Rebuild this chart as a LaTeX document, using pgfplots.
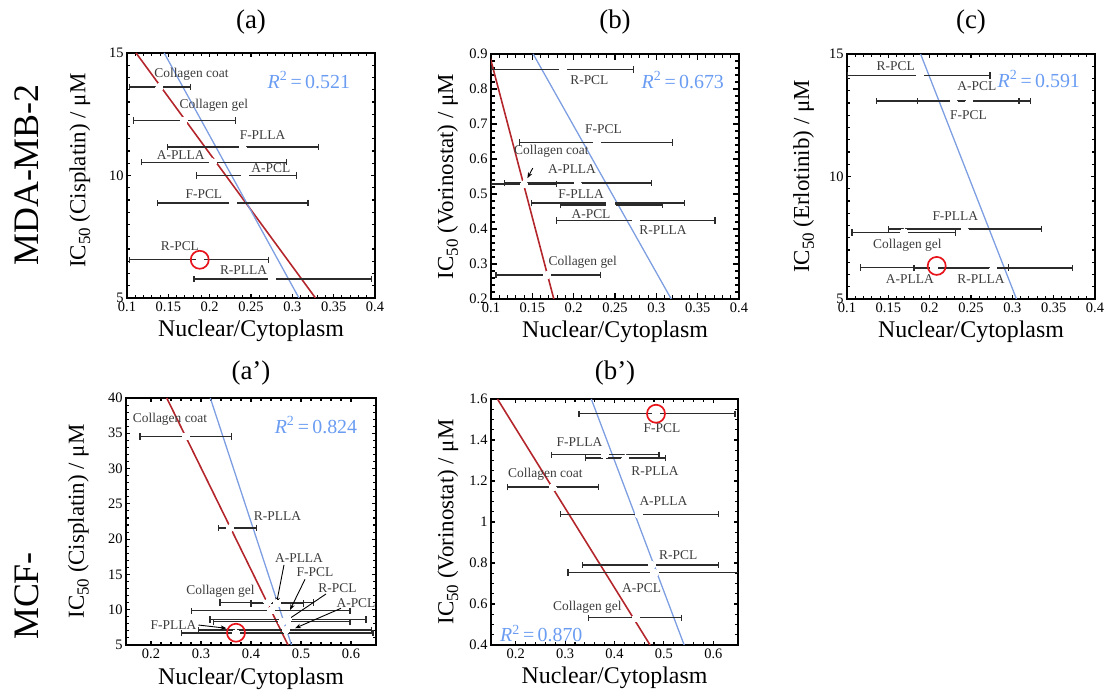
\documentclass[border=0pt]{standalone}
\usepackage{fontspec}
\setmainfont{Liberation Serif}
\usepackage{pgfplots}
\usepackage{pgfplotstable}
\pgfplotsset{compat=1.18}
\usetikzlibrary{arrows.meta}

\definecolor{fitred}{HTML}{B3262C}
\definecolor{fitblue}{HTML}{7D9FE2}
\definecolor{rsq}{HTML}{6A9CF2}
\definecolor{bargray}{HTML}{2B2B2B}
\definecolor{labgray}{HTML}{3C3C3C}
\definecolor{hilite}{HTML}{E8141C}

\newcommand{\fs}[1]{\fontsize{#1}{#1}\selectfont}
\newcommand{\ic}{IC\raisebox{-0.45ex}{\fs{17}50}}

% x y lo hi  (lo/hi = ends of the horizontal error bar)
% (a) MDA-MB, cisplatin
\pgfplotstableread{
x     y     lo    hi
0.139 13.61 0.103 0.177
0.169 12.25 0.108 0.231
0.240 11.16 0.149 0.332
0.204 10.54 0.118 0.293
0.243 10.00 0.184 0.305
0.228 8.88  0.137 0.319
0.188 6.56  0.103 0.271
0.275 5.78  0.181 0.396
}\dataA
% (b) MDA-MB, vorinostat
\pgfplotstableread{
x      y     lo    hi
0.187  0.856 0.100 0.272
0.228  0.647 0.134 0.320
0.140  0.529 0.100 0.179
0.205  0.531 0.116 0.294
0.2436 0.474 0.149 0.334
0.246  0.468 0.184 0.307
0.2756 0.424 0.179 0.371
0.168  0.269 0.106 0.232
}\dataB
% (c) MDA-MB, erlotinib
\pgfplotstableread{
x      y     lo    hi
0.188  14.12 0.100 0.273
0.248  13.08 0.185 0.308
0.229  13.08 0.136 0.322
0.2425 7.85  0.150 0.335
0.169  7.72  0.106 0.231
0.205  6.29  0.116 0.295
0.277  6.26  0.181 0.373
}\dataC
% (a') MCF, cisplatin
\pgfplotstableread{
x     y     lo    hi
0.270 34.56 0.178 0.361
0.358 21.6  0.335 0.411
0.433 11.0  0.338 0.525
0.452 10.9  0.400 0.505
0.440 9.86  0.281 0.598
0.474 8.64  0.318 0.630
0.462 8.30  0.325 0.598
0.470 7.12  0.295 0.641
0.370 6.70  0.261 0.644
}\dataD
% (b') MCF, vorinostat
\pgfplotstableread{
x     y     lo    hi
0.484 1.528 0.328 0.644
0.380 1.328 0.273 0.490
0.422 1.312 0.341 0.503
0.275 1.170 0.183 0.368
0.449 1.038 0.291 0.610
0.476 0.790 0.336 0.610
0.481 0.753 0.306 0.657
0.443 0.533 0.348 0.535
}\dataE

\pgfplotsset{
  panel/.style={
    scale only axis, width=248bp, height=245bp, anchor=south west,
    axis line style={line width=1.4pt},
    tick align=inside,
    tick style={black, line width=1.1pt},
    tick label style={font=\fs{14.5}},
    /pgf/number format/assume math mode=true,
    xlabel={Nuclear/Cytoplasm},
    xlabel style={font=\fs{24}, at={(axis description cs:0.5,-0.135)}, anchor=center},
    ylabel style={font=\fs{23}, at={(axis description cs:-0.19,0.52)}, anchor=center},
    minor x tick num=4,
  },
  fitr/.style={fitred, line width=1.6pt},
  fitb/.style={fitblue, line width=1.3pt},
  bars/.style={only marks, mark=*, mark size=3.6bp,
    mark options={fill=white, draw=white, line width=0pt},
    error bars/.cd, x dir=both, x explicit, error mark=|,
    error bar style={bargray, line width=1.4pt},
    error mark options={draw=bargray, line width=1.2pt, mark size=3.2bp}},
}
\tikzset{
  lab/.style={font=\fs{13.5}, text=labgray, inner sep=0pt},
  rlab/.style={font=\fs{20}, text=rsq, inner sep=0pt},
  ring/.style={hilite, line width=1.7pt},
  arr/.style={-{Stealth[length=6bp,width=4.5bp]}, line width=0.9pt, black},
}

\begin{document}
\begin{tikzpicture}
\path[use as bounding box] (0,0) rectangle (1110bp,693bp);

\node[font=\fs{27}] at (251bp,671bp) {(a)};
\node[font=\fs{27}] at (615bp,671bp) {(b)};
\node[font=\fs{27}] at (971bp,671bp) {(c)};
\node[font=\fs{27}] at (251bp,320bp) {(a’)};
\node[font=\fs{27}] at (615bp,320bp) {(b’)};
\node[font=\fs{36}, rotate=90] at (27bp,518bp) {MDA-MB-2};
\node[font=\fs{36}, rotate=90] at (27bp,97bp) {MCF-};

% (a)
\begin{axis}[panel, at={(127bp,395bp)},
  xmin=0.1, xmax=0.4, ymin=5, ymax=15,
  xtick={0.1,0.15,0.2,0.25,0.3,0.35,0.4}, ytick={5,10,15}, minor y tick num=9,
  ylabel={\ic\ (Cisplatin) / μM}]
\addplot[fitr] coordinates {(0.111,15) (0.328,5)};
\addplot[fitb] coordinates {(0.145,15) (0.308,5)};
\addplot[bars] table[x=x, y=y, x error minus expr=\thisrow{x}-\thisrow{lo},
  x error plus expr=\thisrow{hi}-\thisrow{x}] {\dataA};
\node[lab] at (axis cs:0.178,14.14) {Collagen coat};
\node[lab] at (axis cs:0.205,12.85) {Collagen gel};
\node[lab] at (axis cs:0.264,11.65) {F-PLLA};
\node[lab] at (axis cs:0.165,10.82) {A-PLLA};
\node[lab] at (axis cs:0.274,10.30) {A-PCL};
\node[lab] at (axis cs:0.193,9.26) {F-PCL};
\node[lab] at (axis cs:0.164,7.10) {R-PCL};
\node[lab] at (axis cs:0.241,6.16) {R-PLLA};
\node[rlab] at (axis cs:0.320,13.9) {\textit{R}\textsuperscript{2}\,=\,0.521};
\draw[ring] (axis cs:0.188,6.56) circle[radius=9bp];
\end{axis}

% (b)
\begin{axis}[panel, at={(491bp,394bp)},
  major tick length=0.22cm, minor tick length=0.13cm,
  xmin=0.1, xmax=0.4, ymin=0.2, ymax=0.9,
  xtick={0.1,0.15,0.2,0.25,0.3,0.35,0.4},
  ytick={0.2,0.3,0.4,0.5,0.6,0.7,0.8,0.9}, minor y tick num=4,
  ylabel style={at={(axis description cs:-0.175,0.5)}},
  ylabel={\ic\ (Vorinostat) / μM}]
\addplot[fitr] coordinates {(0.0979,0.9) (0.176,0.2)};
\addplot[fitb] coordinates {(0.151,0.9) (0.318,0.2)};
\addplot[bars] table[x=x, y=y, x error minus expr=\thisrow{x}-\thisrow{lo},
  x error plus expr=\thisrow{hi}-\thisrow{x}] {\dataB};
\node[lab] at (axis cs:0.219,0.824) {R-PCL};
\node[lab] at (axis cs:0.236,0.685) {F-PCL};
\node[lab] at (axis cs:0.173,0.621) {Collagen coat};
\node[lab] at (axis cs:0.198,0.572) {A-PLLA};
\node[lab] at (axis cs:0.209,0.500) {F-PLLA};
\node[lab] at (axis cs:0.221,0.443) {A-PCL};
\node[lab] at (axis cs:0.308,0.396) {R-PLLA};
\node[lab] at (axis cs:0.211,0.305) {Collagen gel};
\draw[arr] (axis cs:0.1505,0.574) -- (axis cs:0.144,0.545);
\node[rlab] at (axis cs:0.332,0.826) {\textit{R}\textsuperscript{2}\,=\,0.673};
\end{axis}

% (c)
\begin{axis}[panel, at={(847bp,394bp)},
  xmin=0.1, xmax=0.4, ymin=5, ymax=15,
  xtick={0.1,0.15,0.2,0.25,0.3,0.35,0.4}, ytick={5,10,15}, minor y tick num=9,
  ylabel style={at={(axis description cs:-0.175,0.5)}},
  ylabel={\ic\ (Erlotinib) / μM}]
\addplot[fitb] coordinates {(0.189,15) (0.305,5)};
\addplot[bars] table[x=x, y=y, x error minus expr=\thisrow{x}-\thisrow{lo},
  x error plus expr=\thisrow{hi}-\thisrow{x}] {\dataC};
\node[lab] at (axis cs:0.159,14.51) {R-PCL};
\node[lab] at (axis cs:0.257,13.70) {A-PCL};
\node[lab] at (axis cs:0.247,12.51) {F-PCL};
\node[lab] at (axis cs:0.231,8.37) {F-PLLA};
\node[lab] at (axis cs:0.173,7.21) {Collagen gel};
\node[lab] at (axis cs:0.176,5.82) {A-PLLA};
\node[lab] at (axis cs:0.262,5.82) {R-PLLA};
\node[rlab] at (axis cs:0.332,13.97) {\textit{R}\textsuperscript{2}\,=\,0.591};
\draw[ring] (axis cs:0.2085,6.35) circle[radius=9bp];
\end{axis}

% (a')
\begin{axis}[panel, at={(126bp,48bp)}, width=250bp, height=247bp,
  xmin=0.15, xmax=0.65, ymin=5, ymax=40,
  xtick={0.2,0.3,0.4,0.5,0.6}, ytick={5,10,15,20,25,30,35,40}, minor y tick num=4,
  ylabel style={at={(axis description cs:-0.19,0.5)}},
  ylabel={\ic\ (Cisplatin) / μM}]
\addplot[fitr] coordinates {(0.2315,40) (0.474,5)};
\addplot[fitb] coordinates {(0.3186,40) (0.481,5)};
\addplot[bars] table[x=x, y=y, x error minus expr=\thisrow{x}-\thisrow{lo},
  x error plus expr=\thisrow{hi}-\thisrow{x}] {\dataD};
\node[lab] at (axis cs:0.238,36.93) {Collagen coat};
\node[lab] at (axis cs:0.453,23.2) {R-PLLA};
\node[lab] at (axis cs:0.339,12.56) {Collagen gel};
\node[lab] at (axis cs:0.496,17.3) {A-PLLA};
\node[lab] at (axis cs:0.528,15.26) {F-PCL};
\node[lab] at (axis cs:0.573,13.04) {R-PCL};
\node[lab] at (axis cs:0.610,11.0) {A-PCL};
\node[lab] at (axis cs:0.245,7.83) {F-PLLA};
\draw[arr] (axis cs:0.466,16.35) -- (axis cs:0.451,10.9);
\draw[arr] (axis cs:0.508,14.3) -- (axis cs:0.478,9.96);
\draw[arr] (axis cs:0.550,12.23) -- (axis cs:0.470,8.4);
\draw[arr] (axis cs:0.580,10.2) -- (axis cs:0.488,7.37);
\draw[arr] (axis cs:0.295,7.83) -- (axis cs:0.351,7.37);
\node[rlab] at (axis cs:0.530,36.2) {\textit{R}\textsuperscript{2}\,=\,0.824};
\draw[ring] (axis cs:0.370,6.74) circle[radius=9bp];
\end{axis}

% (b')
\begin{axis}[panel, at={(491bp,48bp)}, width=247bp, height=246bp,
  xmin=0.15, xmax=0.65, ymin=0.4, ymax=1.6,
  xtick={0.2,0.3,0.4,0.5,0.6}, ytick={0.4,0.6,0.8,1,1.2,1.4,1.6}, minor y tick num=3,
  ylabel style={at={(axis description cs:-0.175,0.5)}},
  ylabel={\ic\ (Vorinostat) / μM}]
\addplot[fitr] coordinates {(0.163,1.6) (0.472,0.4)};
\addplot[fitb] coordinates {(0.353,1.6) (0.541,0.4)};
\addplot[bars] table[x=x, y=y, x error minus expr=\thisrow{x}-\thisrow{lo},
  x error plus expr=\thisrow{hi}-\thisrow{x}] {\dataE};
\node[lab] at (axis cs:0.496,1.458) {F-PCL};
\node[lab] at (axis cs:0.329,1.388) {F-PLLA};
\node[lab] at (axis cs:0.482,1.247) {R-PLLA};
\node[lab] at (axis cs:0.260,1.235) {Collagen coat};
\node[lab] at (axis cs:0.499,1.100) {A-PLLA};
\node[lab] at (axis cs:0.529,0.839) {R-PCL};
\node[lab] at (axis cs:0.455,0.677) {A-PCL};
\node[lab] at (axis cs:0.345,0.583) {Collagen gel};
\node[rlab, anchor=west] at (axis cs:0.168,0.457) {\textit{R}\textsuperscript{2}\,=\,0.870};
\draw[ring] (axis cs:0.484,1.528) circle[radius=9bp];
\end{axis}
\end{tikzpicture}
\end{document}
